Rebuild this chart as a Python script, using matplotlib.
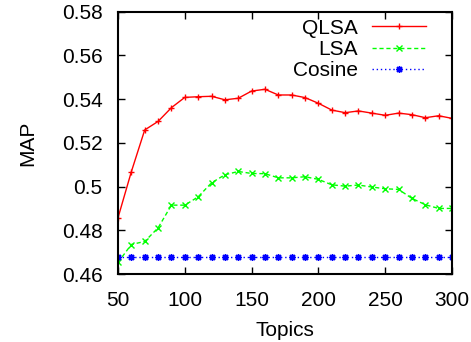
import matplotlib
matplotlib.use("Agg")
import matplotlib.pyplot as plt

plt.rcParams['font.family'] = ['Liberation Sans', 'DejaVu Sans']

topics = [50, 60, 70, 80, 90, 100, 110, 120, 130, 140, 150, 160, 170, 180, 190,
          200, 210, 220, 230, 240, 250, 260, 270, 280, 290, 300]
qlsa = [0.4857, 0.5068, 0.5259, 0.5298, 0.5361, 0.5408, 0.5411, 0.5413, 0.5397,
        0.5404, 0.5437, 0.5445, 0.5419, 0.5419, 0.5407, 0.5381, 0.5350, 0.5338,
        0.5346, 0.5336, 0.5326, 0.5336, 0.5329, 0.5315, 0.5324, 0.5312]
lsa = [0.4653, 0.4735, 0.4749, 0.4811, 0.4915, 0.4915, 0.4953, 0.5017, 0.5054,
       0.5069, 0.5060, 0.5059, 0.5040, 0.5040, 0.5045, 0.5033, 0.5008, 0.5002,
       0.5007, 0.4998, 0.4990, 0.4987, 0.4946, 0.4917, 0.4900, 0.4900]
cosine = [0.4679] * 26

xticks = [50, 100, 150, 200, 250, 300]
yticks = [0.46, 0.48, 0.5, 0.52, 0.54, 0.56, 0.58]
yticklabels = ['0.46', '0.48', '0.5', '0.52', '0.54', '0.56', '0.58']

fig = plt.figure(figsize=(4.71, 3.42), dpi=100)
ax = fig.add_axes([0.2505, 0.1988, 0.7092, 0.767])

ax.plot(topics, qlsa, color='#ff0000', lw=1.0, ls='-', marker='+', ms=5, mew=1.0, label='QLSA')
ax.plot(topics, lsa, color='#00ff00', lw=1.0, ls=(0, (3, 2)), marker='x', ms=4, mew=1.0, label='LSA')
ax.plot(topics, cosine, color='#0000ff', lw=1.0, ls=(0, (1, 2)), marker=(8, 2, 0), ms=5, mew=1.0, label='Cosine')

ax.set_xlim(50, 300)
ax.set_ylim(0.46, 0.58)
ax.set_xticks(xticks)
ax.set_yticks(yticks)
ax.set_yticklabels(yticklabels)
ax.tick_params(direction='in', top=True, right=True, labelsize=15, length=5, width=1)
ax.tick_params(axis='y', pad=11)
ax.tick_params(axis='x', pad=12)
for s in ax.spines.values():
    s.set_linewidth(1.5)

ax.set_xlabel('Topics', fontsize=15, labelpad=8)
ax.set_ylabel('MAP', fontsize=15, labelpad=18)

leg = ax.legend(loc='upper right', frameon=False, markerfirst=False, fontsize=15,
                handlelength=2.6, handletextpad=0.67, labelspacing=0.1,
                borderaxespad=0.0, bbox_to_anchor=(0.947, 1.005))
for t in leg.get_texts():
    t.set_ha('right')

fig.savefig('out.png', dpi=100)
